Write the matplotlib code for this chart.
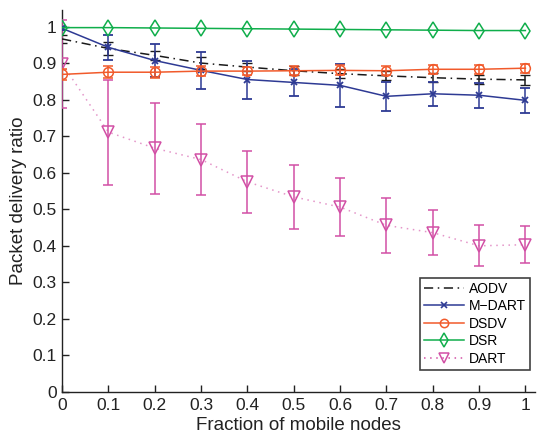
import matplotlib
matplotlib.use("Agg")
import matplotlib.pyplot as plt
from matplotlib.lines import Line2D
import numpy as np

plt.rcParams['font.family'] = ['Liberation Sans', 'DejaVu Sans']

fraction = [0.0, 0.1, 0.2, 0.3, 0.4, 0.5, 0.6, 0.7, 0.8, 0.9, 1.0]

aodv = [0.966, 0.940, 0.921, 0.900, 0.889, 0.879, 0.871, 0.865, 0.860, 0.856, 0.854]
aodv_err = [0.010, 0.018, 0.012, 0.016, 0.012, 0.012, 0.012, 0.012, 0.012, 0.012, 0.013]

mdart = [0.995, 0.943, 0.907, 0.880, 0.855, 0.847, 0.839, 0.809, 0.816, 0.812, 0.798]
mdart_err = [0.005, 0.035, 0.045, 0.050, 0.052, 0.038, 0.058, 0.039, 0.033, 0.034, 0.034]

dsdv = [0.869, 0.875, 0.875, 0.878, 0.878, 0.879, 0.880, 0.879, 0.883, 0.883, 0.886]
dsdv_err = [0.014, 0.017, 0.015, 0.013, 0.012, 0.012, 0.014, 0.013, 0.012, 0.012, 0.012]

dsr = [0.997, 0.997, 0.996, 0.995, 0.994, 0.993, 0.992, 0.991, 0.990, 0.989, 0.989]

dart = [0.898, 0.711, 0.667, 0.636, 0.575, 0.534, 0.506, 0.456, 0.436, 0.400, 0.403]
dart_err = [0.120, 0.144, 0.124, 0.098, 0.084, 0.088, 0.080, 0.075, 0.062, 0.056, 0.050]

fig = plt.figure(figsize=(5.45, 4.38), dpi=100)
ax = fig.add_axes([0.114, 0.105, 0.867, 0.872])

c_aodv = '#1a1a1a'
c_mdart = '#2e3a94'
c_dsdv = '#f15a2b'
c_dsr = '#0fae4b'
c_dart = '#d24fa5'

ms = 7
lw = 1.1
cap = 3.5
ls_aodv = (0, (6, 3, 1, 3))
ls_dart = (0, (1, 3))

ax.errorbar(fraction, aodv, yerr=aodv_err, color=c_aodv, ls=ls_aodv,
            lw=lw, capsize=cap, elinewidth=lw, zorder=3)
ax.errorbar(fraction, mdart, yerr=mdart_err, color=c_mdart, ls='-', lw=lw,
            marker='x', ms=5, mew=1.3, capsize=cap, elinewidth=lw, zorder=4)
ax.errorbar(fraction, dsdv, yerr=dsdv_err, color=c_dsdv, ls='-', lw=lw,
            marker='o', ms=ms, mfc='none', mew=1.1, capsize=cap,
            elinewidth=lw, zorder=5)
ax.plot(fraction, dsr, color=c_dsr, ls='-', lw=lw, marker='d', ms=ms + 1,
        mfc='none', mew=1.1, zorder=6)
ax.plot(fraction, dart, color=c_dart, ls=ls_dart, lw=lw, alpha=0.6, zorder=2)
ax.errorbar(fraction, dart, yerr=dart_err, color=c_dart, ls='none',
            marker='v', ms=ms + 1, mfc='none', mew=1.1, capsize=cap,
            elinewidth=lw, zorder=3)

ax.set_xlim(0, 1.02)
ax.set_ylim(0, 1.045)
ax.set_xticks(np.arange(0, 1.01, 0.1))
ax.set_xticklabels(['0', '0.1', '0.2', '0.3', '0.4', '0.5', '0.6', '0.7',
                    '0.8', '0.9', '1'])
ax.set_yticks(np.arange(0, 1.01, 0.1))
ax.set_yticklabels(['0', '0.1', '0.2', '0.3', '0.4', '0.5', '0.6', '0.7',
                    '0.8', '0.9', '1'])

for side in ('top', 'right'):
    ax.spines[side].set_visible(False)
for side in ('left', 'bottom'):
    ax.spines[side].set_linewidth(1.0)
    ax.spines[side].set_color('#222222')
ax.tick_params(direction='in', length=5, width=1.0, labelsize=12.5,
               colors='#222222', pad=4)

ax.set_xlabel('Fraction of mobile nodes', fontsize=13.5, color='#222222', labelpad=3)
ax.set_ylabel('Packet delivery ratio', fontsize=13.5, color='#222222', labelpad=4)

handles = [
    Line2D([], [], color=c_aodv, ls=ls_aodv, lw=lw),
    Line2D([], [], color=c_mdart, ls='-', lw=lw, marker='x', ms=4.5, mew=1.2),
    Line2D([], [], color=c_dsdv, ls='-', lw=lw, marker='o', ms=6, mfc='none', mew=1.1),
    Line2D([], [], color=c_dsr, ls='-', lw=lw, marker='d', ms=7, mfc='none', mew=1.1),
    Line2D([], [], color=c_dart, ls=ls_dart, lw=lw, marker='v', ms=7, mfc='none', mew=1.1),
]
labels = ['AODV', 'M\u2212DART', 'DSDV', 'DSR', 'DART']
leg = ax.legend(handles, labels, loc='lower right', bbox_to_anchor=(0.99, 0.058),
                fontsize=10, frameon=True, fancybox=False, edgecolor='#111111',
                handlelength=2.9, handletextpad=0.3, borderpad=0.3,
                labelspacing=0.25, borderaxespad=0.0)
leg.get_frame().set_linewidth(1.2)

fig.savefig('out.png', dpi=100)
